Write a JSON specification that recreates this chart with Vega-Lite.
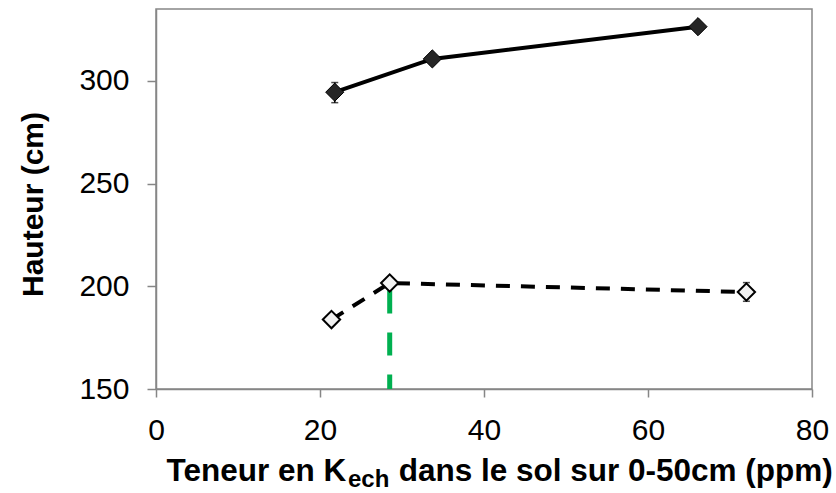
{
  "$schema": "https://vega.github.io/schema/vega-lite/v6.json",
  "width": 656,
  "height": 380,
  "autosize": "none",
  "padding": {"left": 156, "top": 9, "right": 24, "bottom": 104},
  "background": "white",
  "config": {
    "font": "Liberation Sans",
    "view": {"stroke": "#868686", "strokeWidth": 1.5}
  },
  "title": {
    "text": "ech",
    "orient": "bottom",
    "anchor": "start",
    "frame": "group",
    "dx": 192,
    "offset": -19,
    "fontSize": 24,
    "fontWeight": "bold",
    "color": "black",
    "font": "Liberation Sans"
  },
  "datasets": {
    "heights": [
      {"series": "A", "k": 21.8, "h": 294.5},
      {"series": "A", "k": 33.7, "h": 310.7},
      {"series": "A", "k": 66.1, "h": 326.4},
      {"series": "B", "k": 21.4, "h": 183.8},
      {"series": "B", "k": 28.5, "h": 201.6},
      {"series": "B", "k": 72.0, "h": 197.2}
    ],
    "errors": [
      {"k": 21.8, "h": 289.4, "h2": 299.2},
      {"k": 72.0, "h": 192.7, "h2": 201.8}
    ],
    "threshold": [
      {"k": 28.5, "h": 198, "h2": 150}
    ]
  },
  "encoding": {
    "x": {
      "field": "k",
      "type": "quantitative",
      "scale": {"domain": [0, 80], "nice": false, "zero": false},
      "axis": {
        "values": [0, 20, 40, 60, 80],
        "grid": false,
        "domainColor": "#868686",
        "domainWidth": 1.5,
        "tickColor": "#868686",
        "tickWidth": 1.5,
        "tickSize": 8,
        "labelFontSize": 30,
        "labelColor": "black",
        "labelPadding": 18,
        "labelFlush": false,
        "labelOverlap": false,
        "labelBound": false,
        "title": "Teneur en K\u00a0\u00a0\u00a0\u00a0\u00a0\u00a0dans le sol sur 0-50cm (ppm)",
        "titleFontSize": 31.5,
        "titleFontWeight": "bold",
        "titleColor": "black",
        "titleAlign": "left",
        "titleX": 10,
        "titleY": 91,
        "titleBaseline": "alphabetic"
      }
    },
    "y": {
      "field": "h",
      "type": "quantitative",
      "scale": {"domain": [150, 335], "nice": false, "zero": false},
      "axis": {
        "values": [150, 200, 250, 300],
        "grid": false,
        "domainColor": "#868686",
        "domainWidth": 1.5,
        "tickColor": "#868686",
        "tickWidth": 1.5,
        "tickSize": 9,
        "labelFontSize": 30,
        "labelColor": "black",
        "labelPadding": 18,
        "labelFlush": false,
        "labelOverlap": false,
        "labelBound": false,
        "title": "Hauteur (cm)",
        "titleFontSize": 30,
        "titleFontWeight": "bold",
        "titleColor": "black",
        "titleAlign": "center",
        "titleX": -114,
        "titleY": 195,
        "titleBaseline": "alphabetic"
      }
    }
  },
  "layer": [
    {
      "data": {"name": "heights"},
      "transform": [{"filter": "datum.series === 'A'"}],
      "mark": {"type": "line", "color": "black", "strokeWidth": 4}
    },
    {
      "data": {"name": "heights"},
      "transform": [{"filter": "datum.series === 'B'"}],
      "mark": {"type": "line", "color": "black", "strokeWidth": 4, "strokeDash": [14, 11]}
    },
    {
      "data": {"name": "threshold"},
      "mark": {"type": "rule", "color": "#00B050", "strokeWidth": 5, "strokeDash": [23, 19]},
      "encoding": {"y2": {"field": "h2"}}
    },
    {
      "data": {"name": "errors"},
      "mark": {"type": "rule", "color": "black", "strokeWidth": 1.5},
      "encoding": {"y2": {"field": "h2"}}
    },
    {
      "data": {"name": "errors"},
      "mark": {"type": "tick", "orient": "horizontal", "color": "black", "size": 7, "thickness": 1.5}
    },
    {
      "data": {"name": "errors"},
      "mark": {"type": "tick", "orient": "horizontal", "color": "black", "size": 7, "thickness": 1.5},
      "encoding": {"y": {"field": "h2", "type": "quantitative", "title": "Hauteur (cm)"}}
    },
    {
      "data": {"name": "heights"},
      "transform": [{"filter": "datum.series === 'A'"}],
      "mark": {"type": "point", "shape": "diamond", "filled": true, "fill": "#262626", "stroke": "black", "strokeWidth": 1, "size": 330, "opacity": 1}
    },
    {
      "data": {"name": "heights"},
      "transform": [{"filter": "datum.series === 'B'"}],
      "mark": {"type": "point", "shape": "diamond", "filled": true, "fill": "#F2F2F2", "stroke": "black", "strokeWidth": 2, "size": 300, "opacity": 1}
    }
  ]
}
